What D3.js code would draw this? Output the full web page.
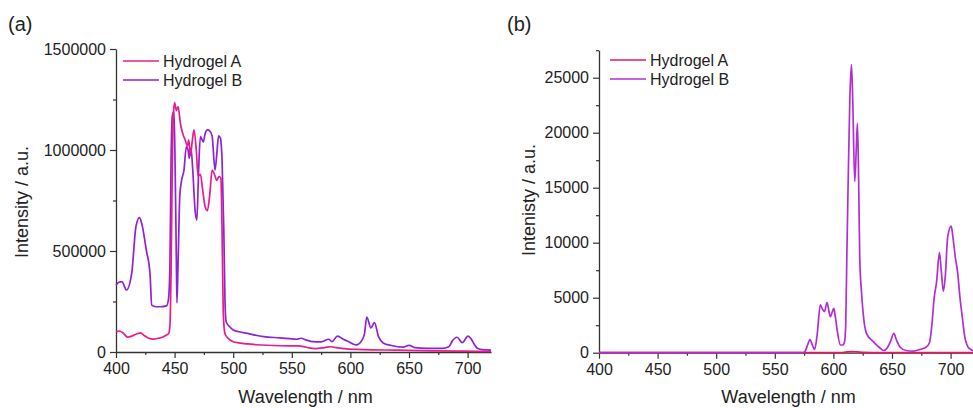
<!DOCTYPE html>
<html><head><meta charset="utf-8">
<script src="https://cdn.jsdelivr.net/npm/d3@7"></script>
<style>
body{margin:0;background:#fff;}
text{font-family:"Liberation Sans",Arial,Helvetica,sans-serif;}
</style></head>
<body><svg id="c" width="973" height="408"></svg>
<script>
// ---------- DATA ----------
const seriesNames = ["Hydrogel A", "Hydrogel B"];
const xTicks = [400, 450, 500, 550, 600, 650, 700];
const yTicksA = [0, 500000, 1000000, 1500000];
const yTicksB = [0, 5000, 10000, 15000, 20000, 25000];

// Panel (a): Hydrogel A
const aWlA = [400,403,406,410,414,418,421,424,428,432,436,440,443,445,446,447,448,449,450,451.5,453,455,457,459,461,462,463.5,465,466.5,468.5,470,472,474,476,478,480,482,484,486,488,489.5,490.5,491.5,493,495,500,505,512,520,540,555,560,565,570,578,583,588,597,610,640,670,697,720];
const aIntA = [100000,104000,94000,74000,80000,90000,95000,82000,68000,64000,68000,74000,84000,92000,130000,400000,900000,1180000,1235000,1195000,1215000,1130000,1080000,1050000,1020000,1050000,975000,1040000,1100000,1000000,870000,880000,800000,720000,700000,780000,900000,880000,850000,870000,860000,600000,200000,90000,72000,51000,45000,40000,36000,31000,30000,27000,20000,17000,22000,26000,22000,15000,12000,9000,6000,4000,2500];
// Panel (a): Hydrogel B
const aWlB = [400,402.5,405,409,413.4,417,420,422,426,429,430.5,434,438,443,444.7,446,447,448,449.5,450.5,451.5,452,453,454.5,456,458,460,461.5,462.5,464,465.5,467.5,469,470.5,472,474.5,476,478,480,482,484.5,486,487.5,489,490.5,492,493,494,497,500,505,512,526,540,554,558,562,568,575,581.5,584.3,589,594,598.5,605,610,612,614,617.5,620.5,624,628,635,645,650,655,665,678,684,687,691,695.5,700.3,703,706,708.3,712,720];
const aIntB = [331000,345000,348000,307000,390000,620000,665000,635000,500000,390000,232000,224000,224000,228000,258000,420000,950000,1165000,1190000,900000,450000,243000,450000,780000,851000,900000,1016000,1000000,960000,1010000,900000,700000,653000,900000,1066000,1040000,1080000,1100000,1095000,1070000,900000,980000,1070000,1060000,950000,600000,250000,150000,125000,109000,100000,92000,76000,70000,63000,68000,60000,51000,50000,63000,51000,79000,63000,51000,35000,60000,90000,173000,119000,145000,76000,45000,32000,24000,33000,22000,18000,18000,26000,55000,73000,46000,79000,65000,35000,18000,12000,9000];

// Panel (b): Hydrogel A
const bWlA = [400,500,600,608,612,616,620,626,640,720];
const bIntA = [0,0,0,20,80,100,80,30,0,0];
// Panel (b): Hydrogel B
const bWlB = [400,450,500,550,574,576,578,580,582,584,586,588.9,590.5,592.3,594.6,596,597.4,599,600.3,601.5,603.2,606,608,609.5,610.5,611.5,612.5,614,615.4,616.5,618.2,619.5,620.5,621.5,622.5,624,625.4,628.2,634,640,643,646,649,651.5,654,657,662,668,674,679,682,684,686,688,690.5,692,693.8,695.5,697.5,700.5,702,704,706,708,710,712,715,718,720];
const bIntB = [0,0,0,0,0,150,700,1200,700,300,1500,4340,4000,3730,4550,3900,3270,3700,4040,3400,2060,700,700,1000,2500,9000,15000,23000,26200,23000,15550,18500,20850,16000,8500,5500,3580,1760,1000,400,200,450,1100,1750,1100,500,200,150,300,500,900,2500,5000,6400,9100,7500,5600,7000,10500,11500,10500,8700,7300,5000,3200,1500,500,250,150];

const colorsA = ["#e81c8c", "#8e22d4"];
const colorsB = ["#e6185e", "#b12ed6"];

// ---------- DRAW ----------
const svg = d3.select("#c");
const axisColor = "#333";

function panel(opt) {
  const x = d3.scaleLinear().domain([400, 720]).range([opt.x0, opt.x0 + 320 * 1.172]);
  const y = d3.scaleLinear().domain([0, opt.yMax]).range([opt.y0, opt.yTop]);
  const g = svg.append("g");

  // minor ticks
  const xMinor = d3.range(425, 720, 50);
  g.append("g").attr("transform", `translate(0,${opt.y0})`)
    .call(d3.axisBottom(x).tickValues(xMinor).tickSize(3).tickFormat(""))
    .call(s => s.select(".domain").remove());
  g.append("g").attr("transform", `translate(${opt.x0},0)`)
    .call(d3.axisLeft(y).tickValues(opt.yMinor).tickSize(3).tickFormat(""))
    .call(s => s.select(".domain").remove());

  // major axes
  const xa = g.append("g").attr("transform", `translate(0,${opt.y0})`)
    .call(d3.axisBottom(x).tickValues(xTicks).tickSize(6).tickSizeOuter(0).tickPadding(5).tickFormat(d3.format("d")));
  const ya = g.append("g").attr("transform", `translate(${opt.x0},0)`)
    .call(d3.axisLeft(y).tickValues(opt.yTicks).tickSize(6).tickSizeOuter(0).tickPadding(4).tickFormat(d3.format("d")));
  [xa, ya].forEach(a => {
    a.selectAll("text").attr("font-size", 16).attr("fill", "#222")
      .attr("font-family", '"Liberation Sans",Arial,sans-serif');
  });
  g.selectAll(".domain").attr("stroke", axisColor).attr("stroke-width", 1.3);
  g.selectAll(".tick line").attr("stroke", axisColor).attr("stroke-width", 1.2);

  // lines
  const line = d3.line().x(d => x(d[0])).y(d => y(d[1])).curve(d3.curveMonotoneX);
  opt.series.forEach(s => {
    const pts = s.wl.map((w, i) => [w, s.v[i]]);
    g.append("path").datum(pts).attr("d", line)
      .attr("fill", "none").attr("stroke", s.color).attr("stroke-width", 1.7)
      .attr("stroke-linejoin", "round");
  });

  // legend
  opt.legendColors.forEach((c, i) => {
    const ly = opt.legY + i * 19;
    g.append("line").attr("x1", opt.legX).attr("x2", opt.legX + 36)
      .attr("y1", ly).attr("y2", ly).attr("stroke", c).attr("stroke-width", 1.7);
    g.append("text").attr("x", opt.legX + 40).attr("y", ly).attr("dy", "0.35em")
      .attr("font-size", 16).attr("fill", "#222").text(seriesNames[i]);
  });

  // titles
  g.append("text").attr("x", (opt.x0 + x(720)) / 2 + 2).attr("y", 403)
    .attr("text-anchor", "middle").attr("font-size", 18).attr("fill", "#222").text("Wavelength / nm");
  g.append("text").attr("transform", `translate(${opt.yTitleX},${opt.yTitleY}) rotate(-90)`)
    .attr("text-anchor", "middle").attr("font-size", 18).attr("fill", "#222").text(opt.yTitle);
  g.append("text").attr("x", opt.labX).attr("y", 31).attr("font-size", 20).attr("fill", "#222").text(opt.label);
}

panel({
  x0: 116, y0: 352, yTop: 49, yMax: 1500000,
  yTicks: yTicksA, yMinor: [250000, 750000, 1250000],
  series: [
    {wl: aWlB, v: aIntB, color: colorsA[1]},
    {wl: aWlA, v: aIntA, color: colorsA[0]}
  ],
  legendColors: colorsA, legX: 123, legY: 61,
  yTitle: "Intensity / a.u.", yTitleX: 28, yTitleY: 202,
  label: "(a)", labX: 8
});

panel({
  x0: 599, y0: 352.7, yTop: 50.2, yMax: 27500,
  yTicks: yTicksB, yMinor: [2500, 7500, 12500, 17500, 22500, 27500],
  series: [
    {wl: bWlA, v: bIntA, color: colorsB[0]},
    {wl: bWlB, v: bIntB, color: colorsB[1]}
  ],
  legendColors: colorsB, legX: 610, legY: 60,
  yTitle: "Intenisty / a.u.", yTitleX: 535, yTitleY: 200,
  label: "(b)", labX: 507
});
</script></body></html>
